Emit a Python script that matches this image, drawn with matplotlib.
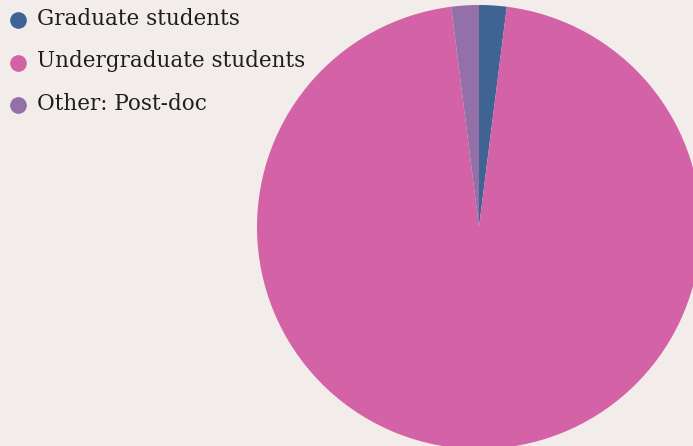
import matplotlib
matplotlib.use("Agg")
import matplotlib.pyplot as plt

labels = ["Graduate students", "Undergraduate students", "Other: Post-doc"]
values = [2, 96, 2]
colors = ["#3f6494", "#d462a6", "#9370a8"]
bg = "#f2edeb"

W, H = 693, 446
fig = plt.figure(figsize=(W / 100, H / 100), dpi=100, facecolor=bg)
ax = fig.add_axes([0, 0, 1, 1])
ax.set_facecolor(bg)
ax.pie(values, colors=colors, startangle=90, counterclock=False,
       center=(479, H - 227), radius=222, frame=False,
       wedgeprops=dict(linewidth=0))
ax.set_xlim(0, W)
ax.set_ylim(0, H)
ax.set_aspect('equal')
ax.axis('off')

for i, (lab, col) in enumerate(zip(labels, colors)):
    y = H - (20 + i * 42.5)
    ax.plot([18], [y], marker='o', markersize=11, color=col, linestyle='none', clip_on=False)
    ax.text(37, y + 1, lab, fontsize=15.5, family=["DejaVu Serif"], color="#1e1e1e",
            va='center', ha='left')

fig.savefig("out.png", dpi=100, facecolor=bg)
